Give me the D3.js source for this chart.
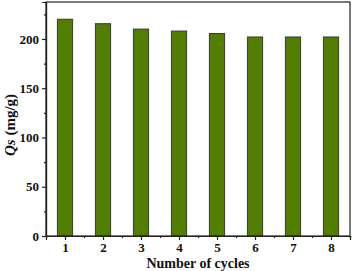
<!DOCTYPE html>
<html><head><meta charset="utf-8">
<script src="https://cdn.jsdelivr.net/npm/d3@7"></script>
<style>body{margin:0;background:#fff}svg{display:block}</style>
</head><body>
<svg id="c" width="354" height="271"></svg>
<script>
const cycles = [1, 2, 3, 4, 5, 6, 7, 8];
const qs = [220, 215.5, 210, 208, 205.5, 202, 202, 202];
const yTicks = [0, 50, 100, 150, 200];
const yMinor = [25, 75, 125, 175, 225];
const xMinor = [0.5, 1.5, 2.5, 3.5, 4.5, 5.5, 6.5, 7.5, 8.5];

const svg = d3.select("#c");
const L = 46, R = 350, T = 2, B = 236;
const x = d3.scaleLinear().domain([0.5, 8.5]).range([L, R]);
const y = d3.scaleLinear().domain([0, 237.5]).range([B, T]);
const font = "'Liberation Serif','Times New Roman',serif";
const bw = x(1.4) - x(1);

svg.selectAll("rect.bar").data(cycles).enter().append("rect")
  .attr("class", "bar")
  .attr("x", (d) => x(d) - bw / 2)
  .attr("y", (d, i) => y(qs[i]))
  .attr("width", bw)
  .attr("height", (d, i) => y(0) - y(qs[i]))
  .attr("fill", "#517d00")
  .attr("stroke", "#3a3a3a")
  .attr("stroke-width", 1);

// frame
svg.append("rect").attr("x", L).attr("y", T).attr("width", R - L).attr("height", B - T)
  .attr("fill", "none").attr("stroke", "#222").attr("stroke-width", 1.2);

const xAxis = svg.append("g").attr("transform", `translate(0,${B})`)
  .call(d3.axisBottom(x).tickValues(cycles).tickFormat(d3.format("d")).tickSize(4).tickPadding(3));
const xAxisMinor = svg.append("g").attr("transform", `translate(0,${B})`)
  .call(d3.axisBottom(x).tickValues(xMinor).tickFormat("").tickSize(2));
const yAxis = svg.append("g").attr("transform", `translate(${L},0)`)
  .call(d3.axisLeft(y).tickValues(yTicks).tickSize(4).tickPadding(3));
const yAxisMinor = svg.append("g").attr("transform", `translate(${L},0)`)
  .call(d3.axisLeft(y).tickValues(yMinor).tickFormat("").tickSize(2));

[xAxis, xAxisMinor, yAxis, yAxisMinor].forEach(g => {
  g.select(".domain").attr("stroke", "#222").attr("stroke-width", 1.2);
  g.selectAll(".tick line").attr("stroke", "#222").attr("stroke-width", 1.2);
  g.selectAll("text").attr("font-family", font).attr("font-weight", "bold")
    .attr("font-size", 13).attr("fill", "#111");
});

svg.append("text").attr("x", (L + R) / 2).attr("y", 268)
  .attr("text-anchor", "middle").attr("font-family", font).attr("font-weight", "bold")
  .attr("font-size", 14).attr("fill", "#111").text("Number of cycles");

const yl = svg.append("text").attr("transform", `translate(15,125) rotate(-90)`)
  .attr("text-anchor", "middle").attr("font-family", font).attr("font-weight", "bold")
  .attr("font-size", 15).attr("fill", "#111");
yl.append("tspan").attr("font-style", "italic").text("Qs");
yl.append("tspan").text(" (mg/g)");
</script>
</body></html>
